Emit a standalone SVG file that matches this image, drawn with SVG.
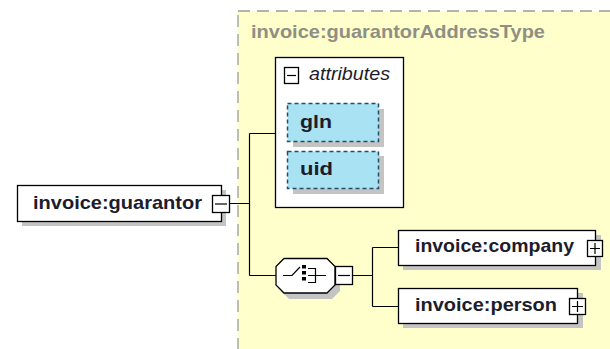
<svg xmlns="http://www.w3.org/2000/svg" width="610" height="349" viewBox="0 0 610 349">
<style>
.lbl{font-family:"Liberation Sans",Arial,sans-serif;font-weight:bold;font-size:18.5px;fill:#1c1c2c}
.box{fill:#fff;stroke:#000;stroke-width:1.3}
.sh{fill:#c4c4c4}
.attr{fill:#a9e2f3;stroke:#1f4f6a;stroke-width:1.5;stroke-dasharray:4,3}
.ln{stroke:#000;stroke-width:1.2;fill:none}
.btn{fill:#fff;stroke:#000;stroke-width:1.3}
</style>
<rect width="610" height="349" fill="#fff"/>
<g id="type">
<rect x="238" y="11" width="380" height="350" fill="#ffffcc" stroke="#9a9a9a" stroke-width="1.3" stroke-dasharray="12,7"/>
<text x="251" y="38" font-family="Liberation Sans,Arial,sans-serif" font-weight="bold" font-size="18.5" fill="#8f8f84" textLength="294" lengthAdjust="spacingAndGlyphs">invoice:guarantorAddressType</text>
</g>
<g id="connectors">
<path class="ln" d="M230 203.5H249.5M249.5 133.5V275.5M249.5 133.5H275.5M249.5 275.5H276M352 275.5H372.5M372.5 247.5V306.5M372.5 247.5H398M372.5 306.5H398"/>
</g>
<g id="guarantor">
<rect class="sh" x="22" y="190" width="204" height="36"/>
<rect class="box" x="17.5" y="185.5" width="204" height="36"/>
<text class="lbl" x="33" y="209" textLength="169" lengthAdjust="spacingAndGlyphs">invoice:guarantor</text>
<rect class="btn" x="212.5" y="195.5" width="17" height="17"/>
<path class="ln" d="M215 204H227"/>
</g>
<g id="attributes">
<rect class="box" x="275.5" y="57.5" width="128" height="150"/>
<rect class="btn" x="284.5" y="67.5" width="14" height="16"/>
<path class="ln" d="M287 75.5H296"/>
<text x="309" y="80" font-family="Liberation Sans,Arial,sans-serif" font-style="italic" font-size="18.5" fill="#1c1c2c" textLength="81" lengthAdjust="spacingAndGlyphs">attributes</text>
</g>
<g id="gln">
<rect class="sh" x="293" y="109" width="91" height="38"/>
<rect class="attr" x="287.5" y="103.5" width="91" height="38"/>
<text class="lbl" x="300" y="128" fill="#1a2a44" textLength="32" lengthAdjust="spacingAndGlyphs">gln</text>
</g>
<g id="uid">
<rect class="sh" x="293" y="156" width="91" height="38"/>
<rect class="attr" x="287.5" y="151.5" width="91" height="37"/>
<text class="lbl" x="300" y="175" textLength="33" lengthAdjust="spacingAndGlyphs">uid</text>
</g>
<g id="choice">
<polygon class="sh" points="289,264 332,264 340,272 340,291 332,299 289,299 281,291 281,272"/>
<polygon class="box" points="284,258.5 327,258.5 335,266.5 335,285 327,293 284,293 276,285 276,266.5"/>
<path class="ln" d="M283 275.5H292L300 267" stroke-width="1.4"/>
<rect x="302" y="265" width="4" height="3.5" fill="#000"/>
<rect x="302" y="271" width="4" height="3.5" fill="#000"/>
<rect x="302" y="277" width="4" height="3.5" fill="#000"/>
<path class="ln" d="M308 268.5H315.5V282.5H308M308 275.5H326" stroke-width="1.4"/>
<rect class="btn" x="335.5" y="266.5" width="17" height="18"/>
<path class="ln" d="M338 275.5H350"/>
</g>
<g id="company">
<rect class="sh" x="403" y="235" width="198" height="35"/>
<rect class="box" x="398.5" y="230.5" width="197" height="35"/>
<text class="lbl" x="415" y="252" textLength="159" lengthAdjust="spacingAndGlyphs">invoice:company</text>
<rect class="btn" x="587.5" y="240.5" width="15" height="16"/>
<path class="ln" d="M590 248.5H600M595 243V254"/>
</g>
<g id="person">
<rect class="sh" x="403" y="293" width="180" height="35"/>
<rect class="box" x="398.5" y="288.5" width="179" height="35"/>
<text class="lbl" x="415" y="311" textLength="142" lengthAdjust="spacingAndGlyphs">invoice:person</text>
<rect class="btn" x="569.5" y="298.5" width="16" height="16"/>
<path class="ln" d="M572 306.5H583M577.5 301V312"/>
</g>
</svg>
